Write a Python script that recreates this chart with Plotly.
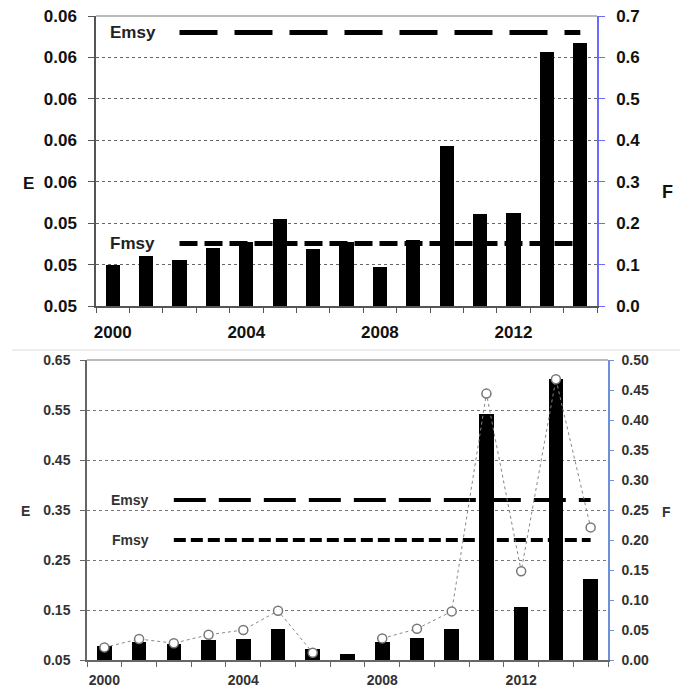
import plotly.graph_objects as go

# ---------------- data ----------------
years = list(range(2000, 2015))

# top panel: F (bars, right axis)
top_F = [0.10, 0.121, 0.112, 0.14, 0.154, 0.209, 0.137, 0.154, 0.095, 0.16,
         0.387, 0.222, 0.225, 0.612, 0.634]
top_emsy = 0.66   # drawn on F scale
top_fmsy = 0.151
top_left_vals = [0, 0.1, 0.2, 0.3, 0.4, 0.5, 0.6, 0.7]
top_left_text = ["0.05", "0.05", "0.05", "0.06", "0.06", "0.06", "0.06", "0.06"]
top_right_vals = [0, 0.1, 0.2, 0.3, 0.4, 0.5, 0.6, 0.7]
top_right_text = ["0.0", "0.1", "0.2", "0.3", "0.4", "0.5", "0.6", "0.7"]

# bottom panel: E (bars, left axis) and F (line, right axis)
bot_E = [0.078, 0.086, 0.083, 0.09, 0.093, 0.112, 0.073, 0.063, 0.087, 0.095,
         0.112, 0.543, 0.157, 0.613, 0.213]
bot_F = [0.021, 0.035, 0.028, 0.042, 0.05, 0.082, 0.012, None, 0.036, 0.052,
         0.081, 0.444, 0.148, 0.468, 0.221]
bot_emsy = 0.37   # E scale
bot_fmsy = 0.20   # F scale
bot_left_vals = [0.05, 0.15, 0.25, 0.35, 0.45, 0.55, 0.65]
bot_right_vals = [0, 0.05, 0.10, 0.15, 0.20, 0.25, 0.30, 0.35, 0.40, 0.45, 0.50]
x_labels = [2000, 2004, 2008, 2012]

# page body has an 8px margin: shrink the figure and offset coordinates
OFF = 8
W, H = 691 - OFF, 687 - OFF
FONT = "Liberation Sans, Arial, sans-serif"

def px_x(a, b):
    return [(a - OFF) / W, (b - OFF) / W]

def px_y(top, bottom):
    return [1 - (bottom - OFF) / H, 1 - (top - OFF) / H]

def pxx(a):
    return (a - OFF) / W

def pxy(b):
    return 1 - (b - OFF) / H

fig = go.Figure()

# ---- top panel ----
fig.add_trace(go.Bar(x=years, y=top_F, xaxis="x", yaxis="y2", width=0.42,
                     marker=dict(color="black", line=dict(width=0)), showlegend=False))
fig.add_trace(go.Scatter(x=[2002, 2014], y=[top_emsy, top_emsy], xaxis="x", yaxis="y2",
                         mode="lines", line=dict(color="black", width=5, dash="38px,17px"),
                         showlegend=False))
fig.add_trace(go.Scatter(x=[2002, 2014], y=[top_fmsy, top_fmsy], xaxis="x", yaxis="y2",
                         mode="lines", line=dict(color="black", width=5, dash="18px,7px"),
                         showlegend=False))
# invisible trace to anchor left axis
fig.add_trace(go.Scatter(x=[years[0]], y=[0], xaxis="x", yaxis="y", mode="markers",
                         marker=dict(opacity=0), showlegend=False, hoverinfo="skip"))

# ---- bottom panel ----
fig.add_trace(go.Bar(x=years, y=[e - 0.05 for e in bot_E], base=0.05, xaxis="x2", yaxis="y3",
                     width=0.42, marker=dict(color="black", line=dict(width=0)),
                     showlegend=False))
fig.add_trace(go.Scatter(x=[2002, 2014], y=[bot_emsy, bot_emsy], xaxis="x2", yaxis="y3",
                         mode="lines", line=dict(color="black", width=4, dash="32px,13px"),
                         showlegend=False))
fig.add_trace(go.Scatter(x=[2002, 2014], y=[bot_fmsy, bot_fmsy], xaxis="x2", yaxis="y4",
                         mode="lines", line=dict(color="black", width=4, dash="12px,5px"),
                         showlegend=False))
fig.add_trace(go.Scatter(x=years, y=bot_F, xaxis="x2", yaxis="y4", mode="lines+markers",
                         line=dict(color="#888888", width=1, dash="dot"),
                         marker=dict(symbol="circle", size=9, color="white",
                                     line=dict(color="#777777", width=1.5)),
                         connectgaps=False, showlegend=False))

tick_font_top = dict(family=FONT, size=17, color="#111111", weight="bold")
tick_font_bot = dict(family=FONT, size=14, color="#333333", weight="bold")

fig.update_layout(
    width=W, height=H,
    margin=dict(l=0, r=0, t=0, b=0),
    paper_bgcolor="white", plot_bgcolor="white",
    bargap=0,
    xaxis=dict(domain=px_x(96, 597), anchor="y", range=[1999.5, 2014.5], automargin=False,
               tickmode="array", tickvals=x_labels, ticktext=[str(v) for v in x_labels],
               ticks="", tickfont=tick_font_top, showgrid=False, zeroline=False,
               showline=True, linecolor="#555555", linewidth=1.5, ticklabelstandoff=10,
               ticklabeloverflow="allow",
               minor=dict(tick0=1999.5, dtick=1, ticks="outside", ticklen=5,
                          tickcolor="#555555", showgrid=False)),
    yaxis=dict(domain=px_y(16, 306), anchor="x", range=[0, 0.7], automargin=False,
               tickmode="array", tickvals=top_left_vals, ticktext=top_left_text,
               ticks="outside", ticklen=6, tickcolor="#555555", tickfont=tick_font_top,
               showline=True, linecolor="#555555", linewidth=1.5, zeroline=False,
               showgrid=True, gridcolor="#666666", griddash="dot", gridwidth=1,
               ticklabelstandoff=8, ticklabeloverflow="allow"),
    yaxis2=dict(overlaying="y", side="right", anchor="x", range=[0, 0.7], automargin=False,
                tickmode="array", tickvals=top_right_vals, ticktext=top_right_text,
                ticks="outside", ticklen=6, tickcolor="#6b6bff", tickfont=tick_font_top,
                showline=True, linecolor="#6b6bff", linewidth=1.5, zeroline=False,
                showgrid=False, ticklabelstandoff=8, ticklabeloverflow="allow"),
    xaxis2=dict(domain=px_x(87, 608), anchor="y3", range=[1999.5, 2014.5], automargin=False,
                tickmode="array", tickvals=x_labels, ticktext=[str(v) for v in x_labels],
                ticks="", tickfont=tick_font_bot, showgrid=False, zeroline=False,
                showline=True, linecolor="#666666", linewidth=1.5, ticklabelstandoff=6,
                ticklabeloverflow="allow",
                minor=dict(tick0=1999.5, dtick=1, ticks="outside", ticklen=5,
                           tickcolor="#666666", showgrid=False)),
    yaxis3=dict(domain=px_y(360, 660), anchor="x2", range=[0.05, 0.65], automargin=False,
                tickmode="array", tickvals=bot_left_vals,
                ticktext=[f"{v:.2f}" for v in bot_left_vals],
                ticks="outside", ticklen=5, tickcolor="#666666", tickfont=tick_font_bot,
                showline=True, linecolor="#666666", linewidth=1.5, zeroline=False,
                showgrid=True, gridcolor="#777777", griddash="dot", gridwidth=1,
                ticklabelstandoff=7, ticklabeloverflow="allow"),
    yaxis4=dict(overlaying="y3", side="right", anchor="x2", range=[0, 0.5], automargin=False,
                tickmode="array", tickvals=bot_right_vals,
                ticktext=[f"{v:.2f}" for v in bot_right_vals],
                ticks="outside", ticklen=4, tickcolor="#6f8fd8", tickfont=tick_font_bot,
                showline=True, linecolor="#6f8fd8", linewidth=1.5, zeroline=False,
                showgrid=False, ticklabelstandoff=5, ticklabeloverflow="allow"),
    shapes=[
        # top borders of plot areas
        dict(type="line", xref="x domain", yref="y domain", x0=0, x1=1, y0=1, y1=1,
             line=dict(color="#bbbbbb", width=2)),
        dict(type="line", xref="x2 domain", yref="y3 domain", x0=0, x1=1, y0=1, y1=1,
             line=dict(color="#bbbbbb", width=2)),
        # separator between panels
        dict(type="line", xref="paper", yref="paper", x0=pxx(12), x1=pxx(680),
             y0=pxy(350), y1=pxy(350), line=dict(color="#dddddd", width=1)),
    ],
    annotations=[
        dict(text="Emsy", x=2000.6, y=top_emsy, xref="x", yref="y2", showarrow=False,
             xanchor="center", font=dict(family=FONT, size=17, color="#222222", weight="bold")),
        dict(text="Fmsy", x=2000.6, y=top_fmsy, xref="x", yref="y2", showarrow=False,
             xanchor="center", font=dict(family=FONT, size=17, color="#222222", weight="bold")),
        dict(text="Emsy", x=2000.75, y=bot_emsy, xref="x2", yref="y3", showarrow=False,
             xanchor="center", font=dict(family=FONT, size=14, color="#333333", weight="bold")),
        dict(text="Fmsy", x=2000.75, y=bot_fmsy, xref="x2", yref="y4", showarrow=False,
             xanchor="center", font=dict(family=FONT, size=14, color="#333333", weight="bold")),
        dict(text="E", x=pxx(28), y=pxy(172), xref="paper", yref="paper", showarrow=False,
             xanchor="center", font=dict(family=FONT, size=17, color="#111111", weight="bold")),
        dict(text="F", x=pxx(667), y=pxy(180), xref="paper", yref="paper", showarrow=False,
             xanchor="center", font=dict(family=FONT, size=18, color="#111111", weight="bold")),
        dict(text="E", x=pxx(25), y=pxy(521), xref="paper", yref="paper", showarrow=False,
             xanchor="center", font=dict(family=FONT, size=14, color="#333333", weight="bold")),
        dict(text="F", x=pxx(666), y=pxy(522), xref="paper", yref="paper", showarrow=False,
             xanchor="center", font=dict(family=FONT, size=14, color="#333333", weight="bold")),
    ],
)

fig.write_html("out.html")
